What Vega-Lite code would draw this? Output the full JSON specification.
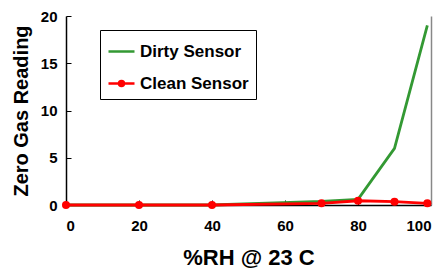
{
  "$schema": "https://vega.github.io/schema/vega-lite/v6.json",
  "width": 365,
  "height": 189,
  "autosize": {"type": "none"},
  "padding": {"left": 66, "top": 16, "right": 13, "bottom": 71},
  "background": "white",
  "config": {
    "view": {"stroke": null},
    "font": "Liberation Sans",
    "axis": {"grid": false, "domainColor": "black", "tickColor": "black", "labelFont": "Liberation Sans", "labelFontWeight": "bold", "labelColor": "black", "titleColor": "black", "titleFont": "Liberation Sans", "titleFontWeight": "bold"}
  },
  "data": {
    "values": [
      {"rh": 0, "reading": 0, "sensor": "Dirty Sensor"},
      {"rh": 20, "reading": 0, "sensor": "Dirty Sensor"},
      {"rh": 40, "reading": 0, "sensor": "Dirty Sensor"},
      {"rh": 70, "reading": 0.37, "sensor": "Dirty Sensor"},
      {"rh": 80, "reading": 0.6, "sensor": "Dirty Sensor"},
      {"rh": 90, "reading": 6, "sensor": "Dirty Sensor"},
      {"rh": 99, "reading": 19, "sensor": "Dirty Sensor"},
      {"rh": 0, "reading": 0, "sensor": "Clean Sensor"},
      {"rh": 20, "reading": 0, "sensor": "Clean Sensor"},
      {"rh": 40, "reading": 0, "sensor": "Clean Sensor"},
      {"rh": 70, "reading": 0.18, "sensor": "Clean Sensor"},
      {"rh": 80, "reading": 0.45, "sensor": "Clean Sensor"},
      {"rh": 90, "reading": 0.35, "sensor": "Clean Sensor"},
      {"rh": 99, "reading": 0.18, "sensor": "Clean Sensor"}
    ]
  },
  "resolve": {"axis": {"y": "independent"}},
  "layer": [
    {
      "mark": {"type": "line", "strokeWidth": 2.8},
      "encoding": {
        "x": {"field": "rh", "type": "quantitative", "scale": {"domain": [0, 100], "nice": false},
              "axis": {"values": [0, 20, 40, 60, 80, 100], "title": "%RH @ 23 C", "titleFontSize": 22, "labelFontSize": 15, "tickSize": -5, "labelPadding": 18, "titlePadding": 14, "domainWidth": 1.5}},
        "y": {"field": "reading", "type": "quantitative", "scale": {"domain": [0, 20], "nice": false},
              "axis": {"values": [0, 5, 10, 15, 20], "title": "Zero Gas Reading", "titleFontSize": 20, "labelFontSize": 15, "tickSize": -5, "labelPadding": 14, "titlePadding": 9, "domainWidth": 1.5}},
        "color": {"field": "sensor", "type": "nominal",
                  "scale": {"domain": ["Dirty Sensor", "Clean Sensor"], "range": ["#339933", "#ff0000"]},
                  "legend": {"title": null, "orient": "none", "legendX": 34, "legendY": 14,
                             "strokeColor": "black", "fillColor": "white", "padding": 7,
                             "labelFontSize": 17, "labelFontWeight": "bold", "labelFont": "Liberation Sans", "labelColor": "black",
                             "symbolSize": 676, "symbolStrokeWidth": 2.5, "rowPadding": 9, "labelOffset": 4,
                             "encode": {"symbols": {"update": {
                               "shape": {"signal": "datum.value === 'Clean Sensor' ? 'M-1,0H1M-0.19,0A0.19,0.19 0 1,0 0.19,0A0.19,0.19 0 1,0 -0.19,0Z' : 'stroke'"},
                               "fill": {"scale": "color", "field": "value"}
                             }}}}},
        "order": {"field": "rh"}
      }
    },
    {
      "transform": [{"filter": "datum.sensor === 'Clean Sensor'"}],
      "mark": {"type": "point", "filled": true, "size": 65, "opacity": 1},
      "encoding": {
        "x": {"field": "rh", "type": "quantitative"},
        "y": {"field": "reading", "type": "quantitative",
              "axis": {"orient": "right", "labels": false, "ticks": false, "title": null, "domainColor": "#888888", "domainWidth": 1.5}},
        "color": {"value": "#ff0000"}
      }
    }
  ]
}
